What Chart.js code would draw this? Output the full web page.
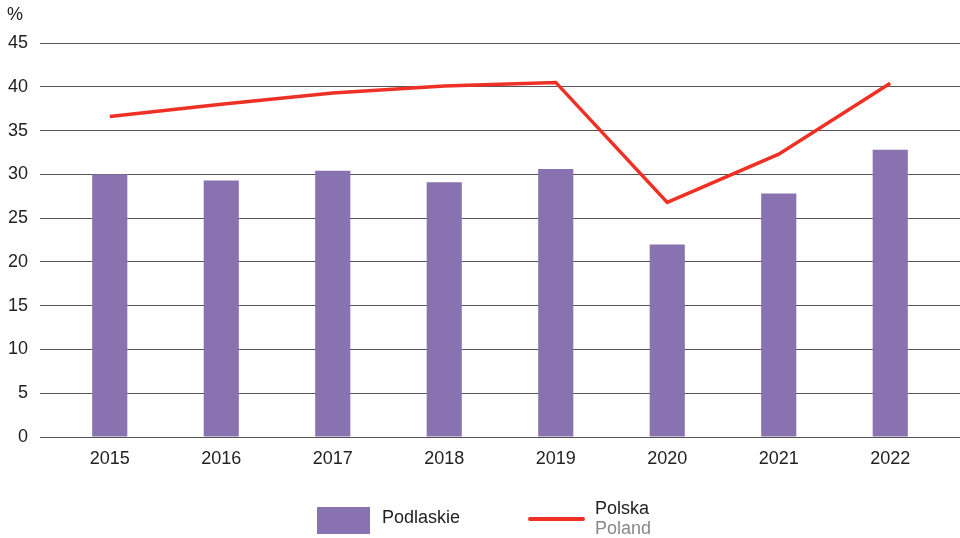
<!DOCTYPE html>
<html>
<head>
<meta charset="utf-8">
<script src="https://cdn.jsdelivr.net/npm/chart.js@4/dist/chart.umd.min.js"></script>
<style>
  html, body { margin: 0; padding: 0; background: #fff; }
  #wrap { position: relative; width: 960px; height: 538px; font-family: "Liberation Sans", Arial, sans-serif; }
  canvas { position: absolute; left: 0; top: 0; }
  .unit { position: absolute; left: 7px; top: 4px; font-size: 18px; color: #222; }
  .box { position: absolute; left: 317px; top: 507px; width: 53px; height: 27px; background: #8872B0; }
  .lab1 { position: absolute; left: 382px; top: 507px; font-size: 18px; color: #222; }
  .ln { position: absolute; left: 528px; top: 517px; width: 57px; height: 4px; background: #EE3124; border-radius: 2px; }
  .lab2 { position: absolute; left: 595px; top: 499px; font-size: 18px; color: #222; line-height: 19.5px; }
  .lab2 span { color: #888; }
</style>
</head>
<body>
<div id="wrap">
  <canvas id="c" width="960" height="538"></canvas>
  <div class="unit">%</div>
  <div class="box"></div>
  <div class="lab1">Podlaskie</div>
  <div class="ln"></div>
  <div class="lab2">Polska<br><span>Poland</span></div>
</div>
<script>
const years = ["2015", "2016", "2017", "2018", "2019", "2020", "2021", "2022"];
const podlaskie = [30.0, 29.3, 30.4, 29.1, 30.6, 22.0, 27.8, 32.8];
const polska = [36.6, 38.0, 39.3, 40.1, 40.5, 26.8, 32.3, 40.4];
const yTicks = [0, 5, 10, 15, 20, 25, 30, 35, 40, 45];

// extends the horizontal grid lines to the right edge of the canvas, as in the reference
const gridExtend = {
  id: 'gridExtend',
  beforeDatasetsDraw(chart) {
    const c = chart.ctx, a = chart.chartArea, y = chart.scales.y;
    c.save();
    c.strokeStyle = '#555';
    c.lineWidth = 1;
    y.ticks.forEach(t => {
      const py = Math.round(y.getPixelForValue(t.value) - 0.5) + 0.5;
      c.beginPath();
      c.moveTo(a.right - 1, py);
      c.lineTo(chart.width, py);
      c.stroke();
    });
    c.restore();
  }
};

const ctx = document.getElementById('c').getContext('2d');
new Chart(ctx, {
  data: {
    labels: years,
    datasets: [
      {
        type: 'line',
        label: 'Polska',
        data: polska,
        borderColor: '#EE3124',
        backgroundColor: '#EE3124',
        borderWidth: 3.5,
        pointRadius: 0,
        tension: 0,
        order: 0
      },
      {
        type: 'bar',
        label: 'Podlaskie',
        data: podlaskie,
        backgroundColor: '#8872B0',
        barPercentage: 0.63,
        categoryPercentage: 0.5,
        order: 1
      }
    ]
  },
  plugins: [gridExtend],
  options: {
    responsive: false,
    animation: false,
    layout: { padding: { left: 0, right: 14, top: 43, bottom: 61 } },
    plugins: { legend: { display: false }, tooltip: { enabled: false } },
    scales: {
      x: {
        grid: { display: false, drawTicks: false },
        border: { display: false },
        ticks: { color: '#222', font: { family: 'Liberation Sans', size: 18 }, padding: 11, maxRotation: 0 },
        afterFit: (s) => { s.height = 40; }
      },
      y: {
        min: 0, max: 45,
        afterBuildTicks: (s) => { s.ticks = yTicks.map(v => ({ value: v })); },
        grid: { color: '#555', lineWidth: 1, tickLength: 14, drawTicks: true },
        border: { display: false },
        ticks: { color: '#222', font: { family: 'Liberation Sans', size: 18 }, padding: 12 },
        afterFit: (s) => { s.width = 54; }
      }
    }
  }
});
</script>
</body>
</html>
